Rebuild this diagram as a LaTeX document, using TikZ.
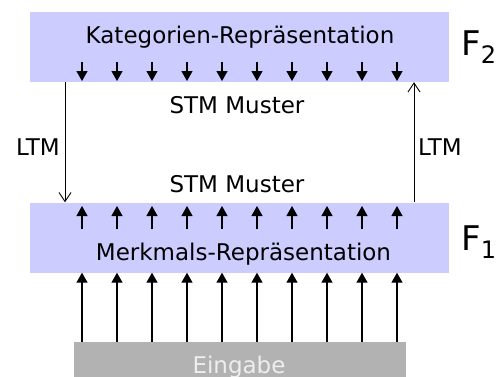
\documentclass[tikz,border=0pt]{standalone}
\usepackage{fontspec}
\setmainfont{DejaVu Sans}
\usetikzlibrary{arrows.meta}
\definecolor{layerblue}{RGB}{204,204,255}
\definecolor{inputgray}{RGB}{178,178,178}
\definecolor{inputtext}{RGB}{238,238,238}
\newcommand{\FullTip}{Triangle[length=10,width=11]}
\newcommand{\OpenTip}{Straight Barb[length=9,width=12]}
\newcommand{\LayerName}[1]{F\raisebox{-8pt}{\fontsize{24}{24}\selectfont #1}}
\tikzset{layer/.style={fill=layerblue,minimum width=419pt,minimum height=70pt,inner sep=0pt}}
\tikzset{stm/.style={line width=1.2pt,-{\FullTip}}}
\tikzset{ltm/.style={line width=.9pt,-{\OpenTip}}}
\tikzset{txt/.style={anchor=base,inner sep=0pt,font=\fontsize{23}{27}\selectfont}}

\begin{document}
\begin{tikzpicture}[x=1pt,y=-1pt]
\useasboundingbox(0,0)rectangle(499,376);
\node[layer](f2)at(239.5,47){};
\node[layer](f1)at(239.5,237.5){};
\node[fill=inputgray,minimum width=332pt,minimum height=40pt,inner sep=0pt](eingabe)at(240,362){};
\node[txt](f2text)at(240,43){Kategorien-Repräsentation};
\node[txt](f1text)at(243.5,260){Merkmals-Repräsentation};
\node[txt,text=inputtext](intext)at(239,373){Eingabe};
\node[txt](stmtop)at(237,113){STM Muster};
\node[txt](stmbot)at(237,192){STM Muster};
\node[txt](ltmleft)at(38,155){LTM};
\node[txt](ltmright)at(440,155){LTM};
\node[anchor=base west,inner sep=0pt,font=\fontsize{34}{40}\selectfont](f2name)at(461,55){\LayerName{2}};
\node[anchor=base west,inner sep=0pt,font=\fontsize{34}{40}\selectfont](f1name)at(461,250){\LayerName{1}};
% STM Pfeile
\foreach\x in{82,117,...,397}{
\draw[stm](\x,62)--(\x,81);
\draw[stm](\x,229)--(\x,206);
\draw[stm](\x,0 |- eingabe.north)--(\x,0 |- f1.south);
}
% LTM
\draw[ltm](65,0 |- f2.south)--(65,0 |- f1.north);
\draw[ltm](414,0 |- f1.north)--(414,0 |- f2.south);
\end{tikzpicture}
\end{document}
